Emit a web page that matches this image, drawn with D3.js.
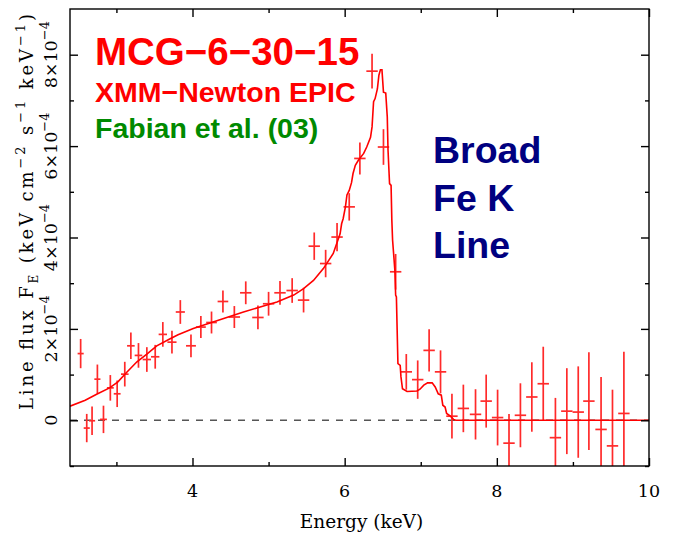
<!DOCTYPE html>
<html lang="en">
<head>
  <meta charset="UTF-8">
  <title>MCG-6-30-15 Broad Fe K Line</title>
  <script src="https://d3js.org/d3.v7.min.js"></script>
  <style>
    body {
      margin: 0;
      background: #fff;
    }

    .axis text {
      display: none;
    }

    .axis path,
    .axis line {
      stroke: #000;
      stroke-width: 1.4px;
    }

    .serif {
      font-family: "DejaVu Serif", serif;
      fill: #000;
    }

    .note {
      font-family: "Liberation Sans", Arial, sans-serif;
      font-weight: bold;
    }
  </style>
</head>
<body>

<svg width="674" height="538"></svg>

<script>
  // data points: energy (keV), flux (1e-4 units), errors
  const energy = [2.53, 2.61, 2.68, 2.75, 2.83, 2.92, 3.01, 3.11, 3.19, 3.29, 3.40, 3.51, 3.61, 3.73, 3.84,
    3.98, 4.11, 4.25, 4.40, 4.55, 4.70, 4.86, 5.00, 5.15, 5.31, 5.46, 5.60, 5.75, 5.90, 6.06, 6.20, 6.36,
    6.51, 6.67, 6.81, 6.96, 7.11, 7.26, 7.41, 7.56, 7.72, 7.86, 8.01, 8.16, 8.31, 8.46, 8.61, 8.77, 8.92,
    9.07, 9.21, 9.37, 9.52, 9.67];
  const flux = [1.46, -0.17, -0.01, 0.90, 0.02, 0.71, 0.58, 1.01, 1.63, 1.42, 1.33, 1.39, 1.88, 1.71, 2.37,
    1.63, 2.04, 2.14, 2.60, 2.26, 2.79, 2.25, 2.55, 2.79, 2.84, 2.63, 3.81, 3.43, 4.01, 4.67, 5.73, 7.64,
    5.98, 3.25, 1.06, 0.89, 1.53, 1.06, 0.09, 0.26, 0.13, 0.42, 0.06, -0.50, 0.11, 0.51, 0.80, -0.38, 0.20,
    0.18, 0.42, -0.20, -0.56, 0.15];
  const fluxErr = [0.32, 0.31, 0.31, 0.32, 0.30, 0.28, 0.29, 0.27, 0.29, 0.27, 0.27, 0.26, 0.27, 0.25, 0.26,
    0.25, 0.24, 0.24, 0.24, 0.24, 0.25, 0.26, 0.26, 0.26, 0.27, 0.27, 0.30, 0.30, 0.31, 0.30, 0.35, 0.38,
    0.39, 0.39, 0.39, 0.42, 0.46, 0.47, 0.49, 0.52, 0.55, 0.58, 0.61, 0.64, 0.70, 0.76, 0.81, 0.87, 0.94,
    1.00, 1.07, 1.15, 1.23, 1.35];
  const energyErr = [0.04, 0.04, 0.04, 0.04, 0.045, 0.045, 0.045, 0.05, 0.05, 0.05, 0.055, 0.055, 0.055, 0.06, 0.06,
    0.065, 0.065, 0.07, 0.07, 0.075, 0.075, 0.075, 0.075, 0.075, 0.075, 0.075, 0.075, 0.075, 0.075, 0.075, 0.075, 0.075,
    0.075, 0.075, 0.075, 0.075, 0.075, 0.075, 0.075, 0.075, 0.075, 0.075, 0.075, 0.075, 0.075, 0.075, 0.075, 0.075, 0.075,
    0.075, 0.075, 0.075, 0.075, 0.075];

  // model line (disk line profile)
  const modelEnergy = [2.39, 2.59, 2.74, 2.91, 3.02, 3.13, 3.27, 3.40, 3.53, 3.70, 3.81, 4.01, 4.23, 4.45, 4.67,
    4.89, 5.11, 5.33, 5.46, 5.59, 5.72, 5.85, 5.94, 5.96, 5.98, 6.01, 6.03, 6.06, 6.09, 6.11, 6.14, 6.18,
    6.25, 6.29, 6.34, 6.36, 6.38, 6.40, 6.43, 6.45, 6.47, 6.49, 6.51, 6.54, 6.56, 6.57, 6.59, 6.61, 6.62,
    6.63, 6.66, 6.67, 6.68, 6.69, 6.70, 6.73, 6.74, 6.76, 6.82, 6.95, 6.99, 7.04, 7.09, 7.15, 7.19, 7.23,
    7.27, 7.29, 7.32, 7.34, 7.39, 7.43, 7.46, 10.0];
  const modelFlux = [0.31, 0.44, 0.57, 0.71, 0.84, 1.04, 1.28, 1.45, 1.63, 1.78, 1.87, 2.01, 2.13, 2.25, 2.37,
    2.48, 2.59, 2.74, 2.88, 3.06, 3.32, 3.65, 4.08, 4.30, 4.41, 4.67, 4.93, 5.03, 5.20, 5.40, 5.58, 5.69,
    5.84, 5.98, 6.19, 6.42, 6.97, 7.04, 7.25, 7.55, 7.67, 7.67, 7.18, 7.16, 6.64, 5.91, 5.18, 5.14, 4.38,
    3.94, 3.28, 2.74, 2.70, 1.97, 1.24, 1.20, 0.95, 0.69, 0.63, 0.64, 0.68, 0.77, 0.82, 0.82, 0.73, 0.58,
    0.55, 0.33, 0.29, 0.15, 0.09, 0.02, 0.0, 0.0];

  const xMajor = [4, 6, 8, 10];
  const xMinor = [3, 5, 7, 9];
  const yMajor = [0, 2, 4, 6, 8];
  const yMinor = [-1, 1, 3, 5, 7];
  const yTickLabels = ["0", "2×10", "4×10", "6×10", "8×10"];

  const svg = d3.select("svg");
  const margin = {left: 70, right: 25, top: 9, bottom: 72};
  const width = +svg.attr("width");
  const height = +svg.attr("height");

  const x = d3.scaleLinear().domain([2.39, 10]).range([margin.left, width - margin.right]);
  const y = d3.scaleLinear().domain([-1, 9]).range([height - margin.bottom, margin.top]);

  const x0 = x.range()[0], x1 = x.range()[1];
  const y0 = y.range()[0], y1 = y.range()[1];

  svg.append("rect").attr("width", width).attr("height", height).attr("fill", "#fff");

  svg.append("clipPath").attr("id", "plot-clip")
    .append("rect")
    .attr("x", x0).attr("y", y1)
    .attr("width", x1 - x0).attr("height", y0 - y1);

  const plot = svg.append("g").attr("clip-path", "url(#plot-clip)");

  // zero level
  plot.append("line")
    .attr("x1", x0).attr("x2", x1)
    .attr("y1", y(0)).attr("y2", y(0))
    .attr("stroke", "#555")
    .attr("stroke-width", 1.5)
    .attr("stroke-dasharray", "7,7");

  const points = energy.map((e, i) => ({e: e, f: flux[i], de: energyErr[i], df: fluxErr[i]}));

  // error bar crosses
  const cross = plot.selectAll(".pt")
    .data(points)
    .enter()
    .append("g")
    .attr("class", "pt")
    .attr("stroke", "#ff2a2a")
    .attr("stroke-width", 1.7);

  cross.append("line")
    .attr("x1", d => x(d.e)).attr("x2", d => x(d.e))
    .attr("y1", d => y(d.f - d.df)).attr("y2", d => y(d.f + d.df));

  cross.append("line")
    .attr("x1", d => x(d.e - d.de)).attr("x2", d => x(d.e + d.de))
    .attr("y1", d => y(d.f)).attr("y2", d => y(d.f));

  // model
  const line = d3.line()
    .x(d => x(d[0]))
    .y(d => y(d[1]));

  plot.append("path")
    .datum(modelEnergy.map((e, i) => [e, modelFlux[i]]))
    .attr("d", line)
    .attr("fill", "none")
    .attr("stroke", "#ff0000")
    .attr("stroke-width", 1.6);

  // axes: ticks on all four sides, pointing inward
  const tickVals = (major, minor) => major.concat(minor);
  const tickLen = v => xMajor.includes(v) ? 8 : 4;
  const yTickLen = v => yMajor.includes(v) ? 8 : 4;

  function styleTicks(g, lenFn, sign, horizontal) {
    g.selectAll(".tick line").each(function(d) {
      const l = d3.select(this);
      if (horizontal) l.attr("y2", sign * lenFn(d));
      else l.attr("x2", sign * lenFn(d));
    });
    g.select(".domain").remove();
  }

  svg.append("g").attr("class", "axis")
    .attr("transform", `translate(0,${y0})`)
    .call(d3.axisBottom(x).tickValues(tickVals(xMajor, xMinor)))
    .call(g => styleTicks(g, tickLen, -1, true));

  svg.append("g").attr("class", "axis")
    .attr("transform", `translate(0,${y1})`)
    .call(d3.axisTop(x).tickValues(tickVals(xMajor, xMinor)))
    .call(g => styleTicks(g, tickLen, 1, true));

  svg.append("g").attr("class", "axis")
    .attr("transform", `translate(${x0},0)`)
    .call(d3.axisLeft(y).tickValues(tickVals(yMajor, yMinor)))
    .call(g => styleTicks(g, yTickLen, 1, false));

  svg.append("g").attr("class", "axis")
    .attr("transform", `translate(${x1},0)`)
    .call(d3.axisRight(y).tickValues(tickVals(yMajor, yMinor)))
    .call(g => styleTicks(g, yTickLen, -1, false));

  svg.append("rect")
    .attr("x", x0).attr("y", y1)
    .attr("width", x1 - x0).attr("height", y0 - y1)
    .attr("fill", "none")
    .attr("stroke", "#000")
    .attr("stroke-width", 1.4);

  // x tick labels
  svg.selectAll(".xlab")
    .data(xMajor)
    .enter()
    .append("text")
    .attr("class", "serif")
    .attr("x", d => x(d))
    .attr("y", y0 + 31)
    .attr("text-anchor", "middle")
    .attr("font-size", 17.5)
    .text(d => d);

  // y tick labels, rotated
  yMajor.forEach((v, i) => {
    const t = svg.append("text")
      .attr("class", "serif")
      .attr("font-size", 17.5)
      .attr("text-anchor", "middle")
      .attr("transform", `translate(${x0 - 13},${y(v)}) rotate(-90)`);
    t.append("tspan").text(yTickLabels[i]);
    if (v !== 0) {
      t.append("tspan").attr("dy", -8).attr("font-size", 13).text("−4");
    }
  });

  // axis titles
  svg.append("text")
    .attr("class", "serif")
    .attr("x", (x0 + x1) / 2 + 2)
    .attr("y", 528)
    .attr("text-anchor", "middle")
    .attr("font-size", 18.5)
    .text("Energy (keV)");

  const yTitle = svg.append("text")
    .attr("class", "serif")
    .attr("font-size", 18)
    .attr("text-anchor", "middle")
    .attr("textLength", 396)
    .attr("lengthAdjust", "spacing")
    .attr("transform", `translate(33,${212}) rotate(-90)`);
  yTitle.append("tspan").text("Line flux F");
  yTitle.append("tspan").attr("dy", 5).attr("font-size", 12).text("E");
  yTitle.append("tspan").attr("dy", -5).text(" (keV cm");
  yTitle.append("tspan").attr("dy", -8).attr("font-size", 13).text("−2");
  yTitle.append("tspan").attr("dy", 8).text(" s");
  yTitle.append("tspan").attr("dy", -8).attr("font-size", 13).text("−1");
  yTitle.append("tspan").attr("dy", 8).text(" keV");
  yTitle.append("tspan").attr("dy", -8).attr("font-size", 13).text("−1");
  yTitle.append("tspan").attr("dy", 8).text(")");

  // annotations
  const notes = [
    {text: "MCG−6−30−15", x: 95, y: 65, size: 38.5, color: "#ff0000"},
    {text: "XMM−Newton EPIC", x: 95, y: 102, size: 28.5, color: "#ff0000"},
    {text: "Fabian et al. (03)", x: 95, y: 138, size: 28.5, color: "#008a00"},
    {text: "Broad", x: 433, y: 163, size: 37.5, color: "#000080"},
    {text: "Fe K", x: 433, y: 211, size: 37.5, color: "#000080"},
    {text: "Line", x: 433, y: 258, size: 37.5, color: "#000080"}
  ];

  svg.selectAll(".note")
    .data(notes)
    .enter()
    .append("text")
    .attr("class", "note")
    .attr("x", d => d.x)
    .attr("y", d => d.y)
    .attr("font-size", d => d.size)
    .attr("fill", d => d.color)
    .text(d => d.text);
</script>

</body>
</html>
